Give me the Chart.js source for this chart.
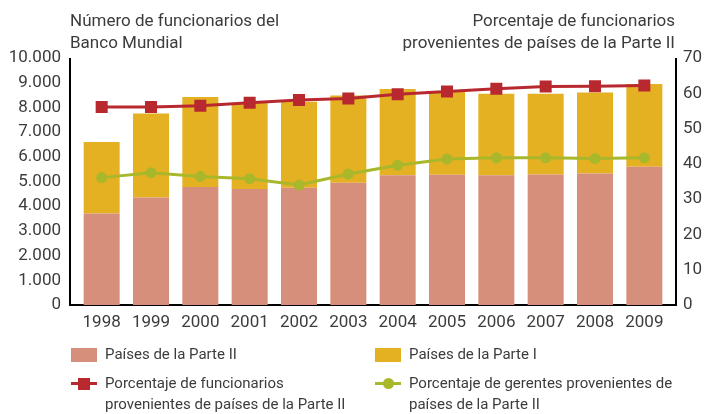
<!DOCTYPE html>
<html lang="es">
<head>
<meta charset="utf-8">
<script src="https://cdn.jsdelivr.net/npm/chart.js@4"></script>
<style>
    body { margin: 0; background: #fff; font-family: Roboto, "DejaVu Sans", sans-serif; color: #3c3c3c; }
    #wrap { position: relative; width: 718px; height: 414px; overflow: hidden; }
    canvas { position: absolute; left: 0; top: 0; }
    .titulo { position: absolute; font-size: 17px; line-height: 22px; white-space: nowrap; }
    .leyenda { position: absolute; font-size: 15px; line-height: 21px; white-space: nowrap; }
    .caja { position: absolute; width: 26px; height: 14px; }
    .linea { position: absolute; width: 26px; height: 3px; }
    .marca { position: absolute; }
</style>
</head>
<body>
<div id="wrap">
    <canvas id="grafico" width="718" height="414"></canvas>
    <div class="titulo" style="left:70px; top:9px;">Número de funcionarios del<br>Banco Mundial</div>
    <div class="titulo" style="right:43px; top:9px; text-align:right;">Porcentaje de funcionarios<br>provenientes de países de la Parte II</div>
    <div id="leyenda"></div>
</div>
<script>
const anios = ["1998", "1999", "2000", "2001", "2002", "2003", "2004", "2005", "2006", "2007", "2008", "2009"];
const parteII = [3700, 4350, 4780, 4700, 4750, 4950, 5250, 5270, 5250, 5280, 5320, 5600];
const parteI = [2900, 3400, 3640, 3480, 3480, 3530, 3500, 3380, 3300, 3270, 3280, 3350];
const pctFuncionarios = [56.1, 56.1, 56.5, 57.3, 58.1, 58.5, 59.7, 60.5, 61.3, 61.9, 62.0, 62.2];
const pctGerentes = [36.1, 37.5, 36.4, 35.8, 34.0, 37.1, 39.6, 41.4, 41.7, 41.7, 41.5, 41.7];
const ticksIzq = [0, 1000, 2000, 3000, 4000, 5000, 6000, 7000, 8000, 9000, 10000];
const ticksDer = [0, 10, 20, 30, 40, 50, 60, 70];

const rosa = "#d68f7b";
const dorado = "#e4b123";
const rojo = "#b8292f";
const verde = "#a9b82b";
const textoColor = "#3c3c3c";

// separación entre los ejes verticales y la zona de barras
const margenEjes = 7;

function formatoMiles(v) {
    return String(v).replace(/\B(?=(\d{3})+(?!\d))/g, ".");
}

const fuenteEjes = { family: "Roboto", size: 17 };

// ejes negros en forma de U, un poco separados de las barras
const marcoEjes = {
    id: "marcoEjes",
    beforeDatasetsDraw(chart) {
        const { ctx, chartArea } = chart;
        const izq = chartArea.left - margenEjes;
        const der = chartArea.right + margenEjes;
        ctx.save();
        ctx.strokeStyle = "#000";
        ctx.lineWidth = 2;
        ctx.beginPath();
        ctx.moveTo(izq, chartArea.top);
        ctx.lineTo(izq, chartArea.bottom);
        ctx.lineTo(der, chartArea.bottom);
        ctx.lineTo(der, chartArea.top);
        ctx.stroke();
        ctx.restore();
    }
};

new Chart(document.getElementById("grafico"), {
    data: {
        labels: anios,
        datasets: [
            {
                type: "line",
                label: "Porcentaje de funcionarios provenientes de países de la Parte II",
                data: pctFuncionarios,
                yAxisID: "y1",
                borderColor: rojo,
                backgroundColor: rojo,
                borderWidth: 3,
                pointStyle: "rect",
                pointRadius: 8.5,
                pointBorderWidth: 0,
                order: 0
            },
            {
                type: "line",
                label: "Porcentaje de gerentes provenientes de países de la Parte II",
                data: pctGerentes,
                yAxisID: "y1",
                borderColor: verde,
                backgroundColor: verde,
                borderWidth: 3,
                pointStyle: "circle",
                pointRadius: 5.5,
                pointBorderWidth: 0,
                order: 0
            },
            {
                type: "bar",
                label: "Países de la Parte II",
                data: parteII,
                backgroundColor: rosa,
                yAxisID: "y",
                categoryPercentage: 1,
                barPercentage: 0.73,
                order: 1
            },
            {
                type: "bar",
                label: "Países de la Parte I",
                data: parteI,
                backgroundColor: dorado,
                yAxisID: "y",
                categoryPercentage: 1,
                barPercentage: 0.73,
                order: 1
            }
        ]
    },
    options: {
        responsive: false,
        animation: false,
        devicePixelRatio: 1,
        layout: { padding: { top: 58, left: 0, right: 0, bottom: 0 } },
        plugins: {
            legend: { display: false },
            tooltip: { enabled: false }
        },
        scales: {
            x: {
                stacked: true,
                grid: { display: false, drawTicks: false },
                border: { display: false },
                ticks: { color: textoColor, font: fuenteEjes, padding: 8, maxRotation: 0 },
                afterFit: scale => { scale.height = 109; }
            },
            y: {
                stacked: true,
                position: "left",
                min: 0,
                max: 10000,
                grid: { display: false, drawTicks: false },
                border: { display: false },
                afterBuildTicks: scale => { scale.ticks = ticksIzq.map(v => ({ value: v })); },
                ticks: { color: textoColor, font: fuenteEjes, padding: 16, callback: v => formatoMiles(v) },
                afterFit: scale => { scale.width = 77; }
            },
            y1: {
                position: "right",
                min: 0,
                max: 70,
                grid: { display: false, drawTicks: false },
                border: { display: false },
                afterBuildTicks: scale => { scale.ticks = ticksDer.map(v => ({ value: v })); },
                ticks: { color: textoColor, font: fuenteEjes, padding: 14 },
                afterFit: scale => { scale.width = 49; }
            }
        }
    },
    plugins: [marcoEjes]
});

// leyenda en dos columnas debajo del gráfico
const leyenda = document.getElementById("leyenda");
const items = [
    { x: 71, y: 344, tipo: "caja", color: rosa, texto: "Países de la Parte II" },
    { x: 375, y: 344, tipo: "caja", color: dorado, texto: "Países de la Parte I" },
    { x: 71, y: 373, tipo: "rect", color: rojo, texto: "Porcentaje de funcionarios<br>provenientes de países de la Parte II" },
    { x: 375, y: 373, tipo: "circulo", color: verde, texto: "Porcentaje de gerentes provenientes de<br>países de la Parte II" }
];

items.forEach(item => {
    let simbolo = "";
    if (item.tipo === "caja") {
        simbolo = `<div class="caja" style="left:${item.x}px; top:${item.y + 4}px; background:${item.color}"></div>`;
    } else {
        const lado = item.tipo === "rect" ? 12 : 11;
        const radio = item.tipo === "rect" ? "0" : "50%";
        simbolo = `
            <div class="linea" style="left:${item.x}px; top:${item.y + 9}px; background:${item.color}"></div>
            <div class="marca" style="left:${item.x + 13 - lado / 2}px; top:${item.y + 10.5 - lado / 2}px; width:${lado}px; height:${lado}px; border-radius:${radio}; background:${item.color}"></div>
        `;
    }
    leyenda.insertAdjacentHTML("beforeend", `
        ${simbolo}
        <div class="leyenda" style="left:${item.x + 34}px; top:${item.y}px;">${item.texto}</div>
    `);
});
</script>
</body>
</html>
